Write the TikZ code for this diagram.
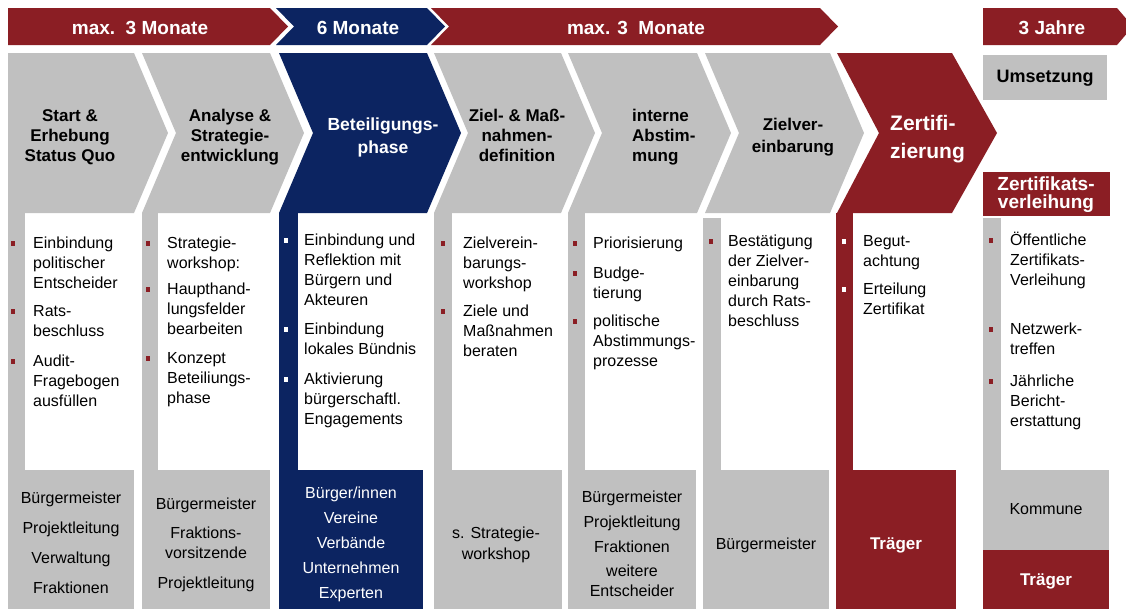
\documentclass[tikz,border=0pt]{standalone}
\usepackage{fontspec}
\setmainfont{Liberation Sans}
\definecolor{pgray}{RGB}{192,192,192}
\definecolor{pred}{RGB}{139,30,36}
\definecolor{pblue}{RGB}{12,36,97}
% small square bullet: colour, x, baseline y
\newcommand\sqbul[3]{\fill[#1] ({#2-2},{#3-7.5}) rectangle ++(4,5);}
\begin{document}
% multi-line nodes are placed by the baseline of their last line
\begin{tikzpicture}[x=1pt,y=-1pt,
  bar/.style={font=\fontsize{19}{22}\selectfont\bfseries, text=white, anchor=base, inner sep=0pt},
  head/.style={font=\fontsize{17}{20}\selectfont\bfseries, align=center, anchor=base, inner sep=0pt},
  item/.style={font=\fontsize{16}{20}\selectfont, align=left, anchor=base west, inner sep=0pt},
  who/.style={font=\fontsize{16}{20}\selectfont, align=center, anchor=base, inner sep=0pt},
  whob/.style={font=\fontsize{17}{20}\selectfont\bfseries, text=white, anchor=base, inner sep=0pt}]
\useasboundingbox (0,0) rectangle (1126,611);
\fill[white] (0,0) rectangle (1126,611);

% ---- time bars
\fill[pred]  (8,8) -- (270,8) -- (288,26.5) -- (270,45) -- (8,45) -- cycle;
\fill[pblue] (276,8) -- (427,8) -- (445,26.5) -- (427,45) -- (276,45) -- (294,26.5) -- cycle;
\fill[pred]  (431,8) -- (820,8) -- (838,26.5) -- (820,45) -- (431,45) -- (449,26.5) -- cycle;
\fill[pred]  (983,8) -- (1117,8) -- (1126,18.5) -- (1126,34.5) -- (1117,45) -- (983,45) -- cycle;
\node[bar] (bar1) at (140,34) {max.\ \ 3 Monate};
\node[bar] (bar2) at (358,34) {6 Monate};
\node[bar] (bar3) at (636,34) {max. 3\ \ Monate};
\node[bar] (bar4) at (1052,34) {3 Jahre};

% ---- phase chevrons
\fill[pgray] (8,53) -- (134,53) -- (168,133) -- (134,213) -- (8,213) -- cycle;
\fill[pgray] (142,53) -- (270,53) -- (304,133) -- (270,213) -- (142,213) -- (176,133) -- cycle;
\fill[pblue] (279,53) -- (427,53) -- (461,133) -- (427,213) -- (279,213) -- (313,133) -- cycle;
\fill[pgray] (434,53) -- (561,53) -- (595,133) -- (561,213) -- (434,213) -- (468,133) -- cycle;
\fill[pgray] (568,53) -- (697,53) -- (731,133) -- (697,213) -- (568,213) -- (602,133) -- cycle;
\fill[pgray] (705,53) -- (830,53) -- (864,133) -- (830,213) -- (705,213) -- (739,133) -- cycle;
\fill[pred]  (837,53) -- (952,53) -- (997,133) -- (952,213) -- (837,213) -- (879,133) -- cycle;

% ---- column strips and bottom boxes
\fill[pgray] (8,213) rectangle (25,470);    \fill[pgray] (8,470) rectangle (134,609);
\fill[pgray] (142,213) rectangle (158,470); \fill[pgray] (142,470) rectangle (270,609);
\fill[pblue] (279,213) rectangle (298,470); \fill[pblue] (279,470) rectangle (423,609);
\fill[pgray] (434,213) rectangle (452,470); \fill[pgray] (434,470) rectangle (562,609);
\fill[pgray] (568,213) rectangle (585,470); \fill[pgray] (568,470) rectangle (696,609);
\fill[pgray] (703,218) rectangle (721,470); \fill[pgray] (703,470) rectangle (829,609);
\fill[pred]  (836,213) rectangle (853,470); \fill[pred]  (836,470) rectangle (956,609);
\fill[pgray] (983,218) rectangle (1001,470);
\fill[pgray] (983,470) rectangle (1109,550);
\fill[pred]  (983,550) rectangle (1109,609);
\fill[pgray] (983,55) rectangle (1107,100);
\fill[pred]  (983,172) rectangle (1110,216);

% ---- phase titles
\node[head] (h1) at (70,161) {Start \&\\Erhebung\\Status Quo};
\node[head] (h2) at (230,161) {Analyse \&\\Strategie-\\entwicklung};
\node[head, text=white, font=\fontsize{17.5}{23.5}\selectfont\bfseries] (h3) at (383,153.5) {Beteiligungs-\\phase};
\node[head] (h4) at (517,161) {Ziel- \& Maß-\\nahmen-\\definition};
\node[head, align=left, anchor=base west] (h5) at (632,161) {interne\\Abstim-\\mung};
\node[head, font=\fontsize{17}{22}\selectfont\bfseries] (h6) at (793,152) {Zielver-\\einbarung};
\node[head, align=left, anchor=base west, text=white, font=\fontsize{21}{28}\selectfont\bfseries] (h7) at (890,158) {Zertifi-\\zierung};
\node[head, font=\fontsize{18}{21}\selectfont\bfseries] (h8) at (1045,82) {Umsetzung};
\node[head, text=white, font=\fontsize{19}{17.5}\selectfont\bfseries] (h9) at (1046,208) {Zertifikats-\\verleihung};

% ---- activities
\sqbul{pred}{13}{248} \node[item] (a11) at (33,288) {Einbindung\\politischer\\Entscheider};
\sqbul{pred}{13}{316} \node[item] (a12) at (33,336) {Rats-\\beschluss};
\sqbul{pred}{13}{366} \node[item] (a13) at (33,406) {Audit-\\Fragebogen\\ausfüllen};

\sqbul{pred}{148}{248} \node[item] (a21) at (167,268) {Strategie-\\workshop:};
\sqbul{pred}{148}{294} \node[item] (a22) at (167,334) {Haupthand-\\lungsfelder\\bearbeiten};
\sqbul{pred}{148}{363} \node[item] (a23) at (167,403) {Konzept\\Beteiliungs-\\phase};

\sqbul{white}{286}{245} \node[item] (a31) at (304,305) {Einbindung und\\Reflektion mit\\Bürgern und\\Akteuren};
\sqbul{white}{286}{334} \node[item] (a32) at (304,354) {Einbindung\\lokales Bündnis};
\sqbul{white}{286}{384} \node[item] (a33) at (304,424) {Aktivierung\\bürgerschaftl.\\Engagements};

\sqbul{pred}{443}{248} \node[item] (a41) at (463,288) {Zielverein-\\barungs-\\workshop};
\sqbul{pred}{443}{316} \node[item] (a42) at (463,356) {Ziele und\\Maßnahmen\\beraten};

\sqbul{pred}{575}{248} \node[item] (a51) at (593,248) {Priorisierung};
\sqbul{pred}{575}{278} \node[item] (a52) at (593,298) {Budge-\\tierung};
\sqbul{pred}{575}{326} \node[item] (a53) at (593,366) {politische\\Abstimmungs-\\prozesse};

\sqbul{pred}{711}{246} \node[item] (a61) at (728,326) {Bestätigung\\der Zielver-\\einbarung\\durch Rats-\\beschluss};

\sqbul{white}{844}{246} \node[item] (a71) at (863,266) {Begut-\\achtung};
\sqbul{white}{844}{294} \node[item] (a72) at (863,314) {Erteilung\\Zertifikat};

\sqbul{pred}{991}{245} \node[item] (a81) at (1010,285) {Öffentliche\\Zertifikats-\\Verleihung};
\sqbul{pred}{991}{334} \node[item] (a82) at (1010,354) {Netzwerk-\\treffen};
\sqbul{pred}{991}{386} \node[item] (a83) at (1010,426) {Jährliche\\Bericht-\\erstattung};

% ---- participants
\node[who, font=\fontsize{16}{30}\selectfont] (w1) at (71,593) {Bürgermeister\\Projektleitung\\Verwaltung\\Fraktionen};
\node[who] (w2a) at (206,509) {Bürgermeister};
\node[who] (w2b) at (206,558) {Fraktions-\\vorsitzende};
\node[who] (w2c) at (206,588) {Projektleitung};
\node[who, text=white, font=\fontsize{16}{25}\selectfont] (w3) at (351,598) {Bürger/innen\\Vereine\\Verbände\\Unternehmen\\Experten};
\node[who, font=\fontsize{16}{21}\selectfont] (w4) at (496,559) {s. Strategie-\\workshop};
\node[who, font=\fontsize{16}{25}\selectfont] (w5a) at (632,552) {Bürgermeister\\Projektleitung\\Fraktionen};
\node[who] (w5b) at (632,596) {weitere\\Entscheider};
\node[who] (w6) at (766,549) {Bürgermeister};
\node[whob] (w7) at (896,549) {Träger};
\node[who] (w8a) at (1046,514) {Kommune};
\node[whob] (w8b) at (1046,585) {Träger};
\end{tikzpicture}
\end{document}
